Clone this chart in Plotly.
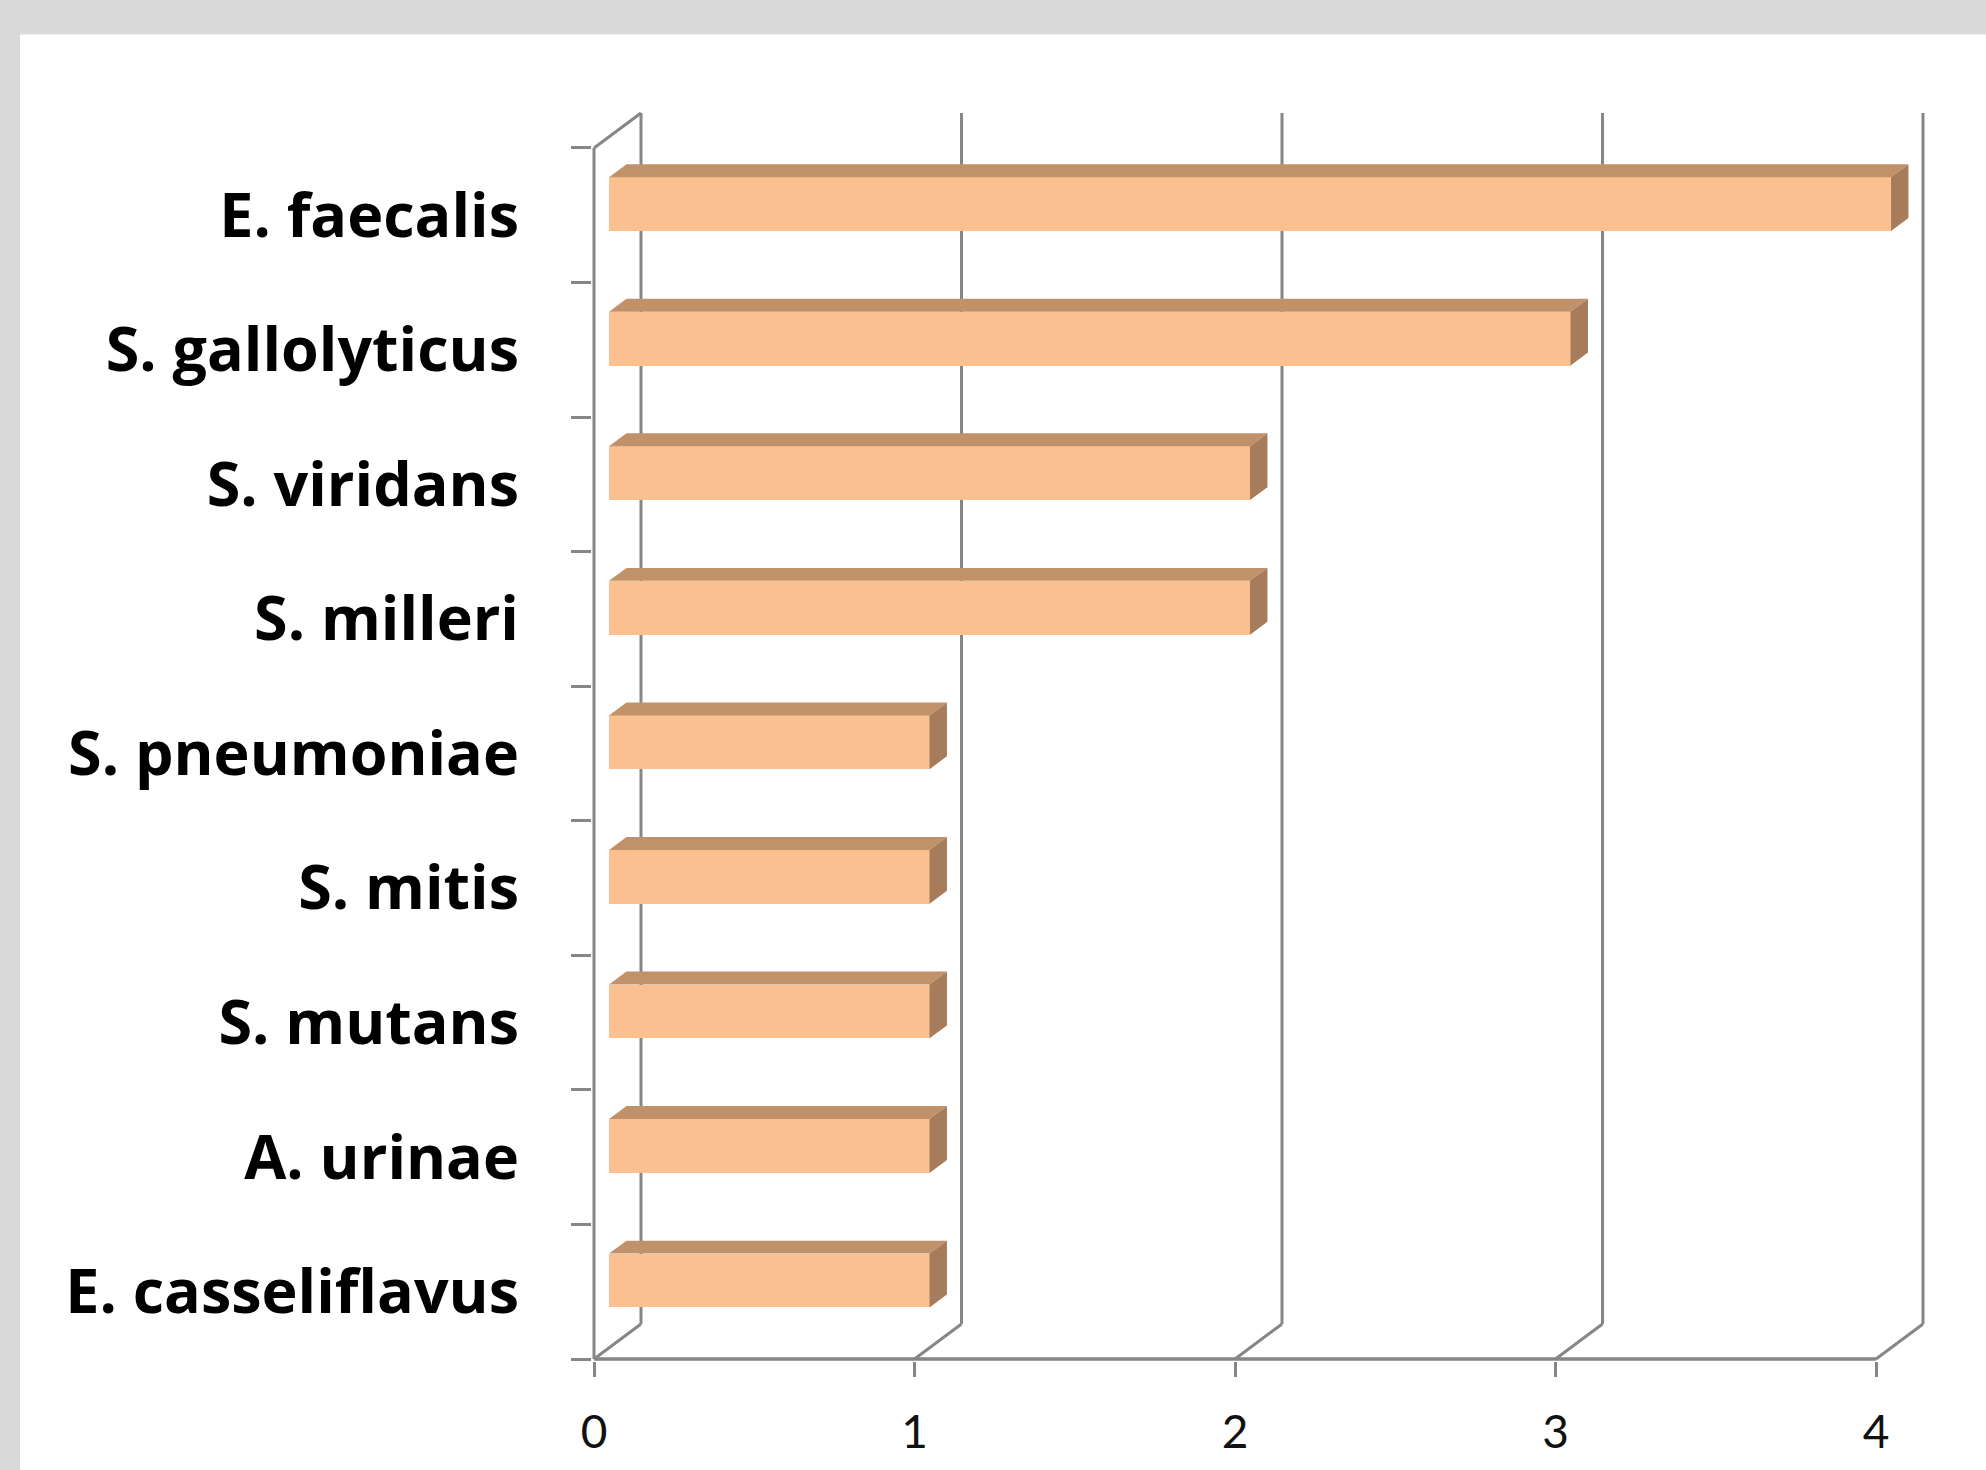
import plotly.graph_objects as go

# ---------------- data ----------------
categories = ["E. faecalis", "S. gallolyticus", "S. viridans", "S. milleri",
              "S. pneumoniae", "S. mitis", "S. mutans", "A. urinae",
              "E. casseliflavus"]
values = [4, 3, 2, 2, 1, 1, 1, 1, 1]
x_ticks = [0, 1, 2, 3, 4]
x_tick_labels = ["0", "1", "2", "3", "4"]

# ---------------- geometry / style ----------------
W, H = 1986, 1470
U = 320.5          # px per value unit
V = 134.6          # px per category band
DX_PX, DY_PX = 47, 35   # depth offset of back wall in px
X0_PX, Y0_PX = 594, 1359  # front origin position in px
dx, dy = DX_PX / U, DY_PX / V
F1, F2 = 0.32, 0.69      # bar depth start/end (fraction of depth)
BAR_W = 0.4
GRID = "#868686"
FRONT = "#FAC090"
TOP = "#C1916A"
SIDE = "#A67C5A"

n = len(categories)
xmax = max(x_ticks)
x_lo, x_hi = -2 / U, xmax + dx + 4 / U
y_lo, y_hi = -2 / V, n + dy + 4 / V
plot_w = (x_hi - x_lo) * U
plot_h = (y_hi - y_lo) * V
m_l = X0_PX - 2
m_b = H - Y0_PX - 2
m_r = W - m_l - plot_w
m_t = H - m_b - plot_h

centers = [n - 1 - i + 0.5 for i in range(n)]

fig = go.Figure()

# front faces of the bars
fig.add_trace(go.Bar(
    orientation="h",
    x=values,
    y=[c + F1 * dy for c in centers],
    base=[F1 * dx] * n,
    width=BAR_W,
    marker=dict(color=FRONT, line=dict(width=0)),
    hoverinfo="skip",
    showlegend=False,
))

# top and side faces
ddx, ddy = (F2 - F1) * dx, (F2 - F1) * dy
tx, ty, sx, sy = [], [], [], []
for c, v in zip(centers, values):
    x0 = F1 * dx
    x1 = v + F1 * dx
    yb = c - BAR_W / 2 + F1 * dy
    yt = c + BAR_W / 2 + F1 * dy
    tx += [x0, x1, x1 + ddx, x0 + ddx, x0, None]
    ty += [yt, yt, yt + ddy, yt + ddy, yt, None]
    sx += [x1, x1 + ddx, x1 + ddx, x1, x1, None]
    sy += [yb, yb + ddy, yt + ddy, yt, yb, None]

fig.add_trace(go.Scatter(x=tx, y=ty, mode="lines", fill="toself",
                         fillcolor=TOP, line=dict(width=0, color=TOP),
                         hoverinfo="skip", showlegend=False))
fig.add_trace(go.Scatter(x=sx, y=sy, mode="lines", fill="toself",
                         fillcolor=SIDE, line=dict(width=0, color=SIDE),
                         hoverinfo="skip", showlegend=False))

# axis frame and back-wall gridlines
shapes = []
# white chart area on grey background
shapes.append(dict(type="rect", xref="paper", yref="paper",
                   x0=(20 - m_l) / plot_w, x1=(W - m_l) / plot_w + 0.01,
                   y0=-m_b / plot_h - 0.01, y1=(H - m_b - 34) / plot_h,
                   fillcolor="white", line=dict(width=0), layer="below"))

def seg(xa, ya, xb, yb, w=3):
    shapes.append(dict(type="line", xref="x", yref="y", x0=xa, y0=ya,
                       x1=xb, y1=yb, line=dict(color=GRID, width=w),
                       layer="below"))

seg(0, 0, xmax, 0, 3.5)
seg(0, 0, 0, n)
seg(0, n, dx, n + dy)
for t in x_ticks:
    seg(t, 0, t + dx, dy)
    seg(t + dx, dy, t + dx, n + dy)

fig.update_layout(
    width=W, height=H,
    margin=dict(l=m_l, r=m_r, t=m_t, b=m_b, autoexpand=False),
    paper_bgcolor="#D9D9D9",
    plot_bgcolor="rgba(0,0,0,0)",
    shapes=shapes,
    bargap=0,
    xaxis=dict(
        range=[x_lo, x_hi], tickmode="array", tickvals=x_ticks,
        ticktext=x_tick_labels, ticks="outside", ticklen=15, tickwidth=3,
        tickcolor=GRID, showgrid=False, zeroline=False, showline=False,
        tickfont=dict(family="Lato", size=46, color="#111111"),
        ticklabelstandoff=16, fixedrange=True,
    ),
    yaxis=dict(
        range=[y_lo, y_hi], tickmode="array", tickvals=centers,
        ticktext=categories, ticks="", showgrid=False, zeroline=False,
        showline=False,
        minor=dict(tickmode="array", tickvals=list(range(n + 1)),
                   ticks="outside", ticklen=20, tickwidth=3,
                   tickcolor=GRID, showgrid=False),
        tickfont=dict(family="Open Sans", size=61, color="#000000",
                      weight="bold"),
        ticklabelstandoff=72, fixedrange=True,
    ),
)

fig.write_html(
    "out.html",
    config={"displayModeBar": False},
    post_script="document.body.style.margin='0';"
                "document.body.style.overflow='hidden';",
)
